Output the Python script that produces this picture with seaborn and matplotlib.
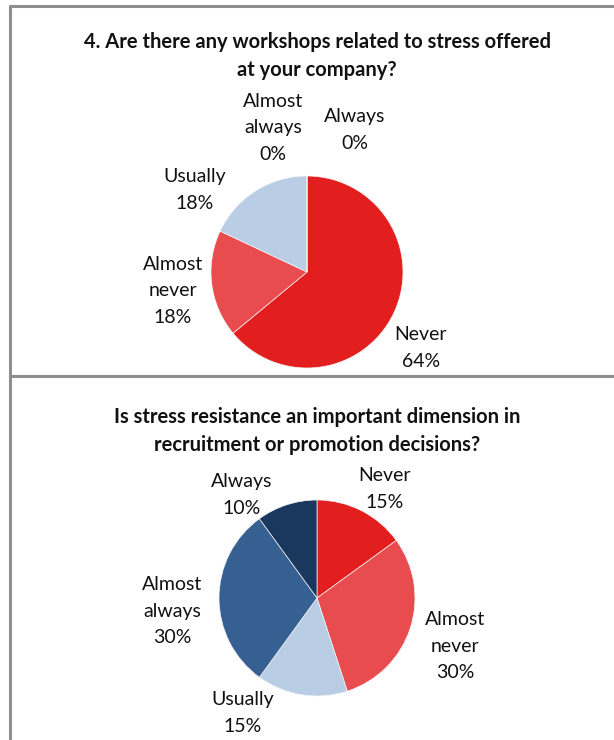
import matplotlib
matplotlib.use("Agg")
import matplotlib.pyplot as plt
import seaborn as sns
from matplotlib.lines import Line2D

# Данные
categories = ["Never", "Almost never", "Usually", "Almost always", "Always"]
colors = ["#E31E1F", "#E84C4E", "#B9CDE5", "#376092", "#1A375E"]

title_1 = "4. Are there any workshops related to stress offered\nat your company?"
values_1 = [64, 18, 18, 0, 0]
labels_1 = ["Never\n64%", "Almost\nnever\n18%", "Usually\n18%",
            "Almost\nalways\n0%", "Always\n0%"]

title_2 = "Is stress resistance an important dimension in\nrecruitment or promotion decisions?"
values_2 = [15, 30, 15, 30, 10]
labels_2 = ["Never\n15%", "Almost\nnever\n30%", "Usually\n15%",
            "Almost\nalways\n30%", "Always\n10%"]

# Позиции подписей (пиксели изображения)
label_pos_1 = [(421, 348), (173, 291), (195, 190), (273, 128), (355, 130)]
label_pos_2 = [(385, 489), (455, 646), (243, 713), (172, 611), (242, 495)]

sns.set_theme(style="white")
plt.rcParams['font.family'] = ['Lato', 'DejaVu Sans']

W, H = 614, 740
fig = plt.figure(figsize=(W / 100, H / 100), dpi=100)


def px(x, y):
    return x / W, 1 - y / H


def draw_pie(cx, cy, r, values, labels, pos, title, title_y):
    ax = fig.add_axes([(cx - r) / W, 1 - (cy + r) / H, 2 * r / W, 2 * r / H])
    ax.pie(values, colors=colors, startangle=90, counterclock=False,
           radius=1, wedgeprops=dict(linewidth=0.5, edgecolor="#F4F4F4"))
    ax.set_xlim(-1, 1)
    ax.set_ylim(-1, 1)
    ax.set_axis_off()
    for lab, (x, y) in zip(labels, pos):
        fx, fy = px(x, y)
        fig.text(fx, fy, lab, ha="center", va="center", fontsize=14,
                 linespacing=1.65, color="#111111")
    fx, fy = px(317, title_y)
    fig.text(fx, fy, title, ha="center", va="center", fontsize=14.5,
             fontweight="bold", linespacing=1.55, color="#111111")


draw_pie(307, 272, 96, values_1, labels_1, label_pos_1, title_1, 56)
draw_pie(317, 598, 98, values_2, labels_2, label_pos_2, title_2, 431)

# Рамки
border = dict(color="#8E8E8E", linewidth=2.2, transform=fig.transFigure)
for xs, ys in [((10, 10), (6, 740)), ((10, 614), (6, 6)), ((10, 614), (376, 376))]:
    p0 = px(xs[0], ys[0])
    p1 = px(xs[1], ys[1])
    fig.add_artist(Line2D([p0[0], p1[0]], [p0[1], p1[1]], **border))

fig.savefig("out.png", dpi=100)
